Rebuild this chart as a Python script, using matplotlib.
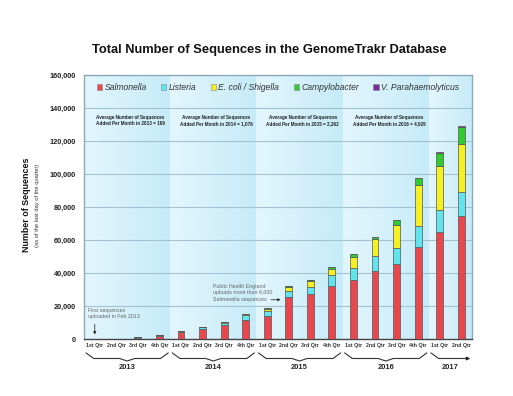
import numpy as np
import matplotlib
matplotlib.use("Agg")
import matplotlib.pyplot as plt
from matplotlib.transforms import blended_transform_factory
from matplotlib.colors import LinearSegmentedColormap

plt.rcParams['font.family'] = ['Liberation Sans', 'DejaVu Sans']

# ---------------- data ----------------
quarters = ["1st Qtr", "2nd Qtr", "3rd Qtr", "4th Qtr"] * 4 + ["1st Qtr", "2nd Qtr"]
years = ["2013", "2014", "2015", "2016", "2017"]
year_quarter_counts = [4, 4, 4, 4, 2]

salmonella = [100, 300, 900, 2100, 4300, 5900, 8300, 11500, 13900, 25300, 27500, 32100,
              35800, 41000, 45300, 55800, 64800, 74300]
listeria = [0, 0, 100, 300, 500, 1100, 1700, 3000, 3100, 3800, 4200, 6500,
            7400, 9300, 9800, 12500, 13200, 14500]
ecoli = [0, 0, 0, 0, 0, 300, 400, 700, 1100, 2600, 3400, 4000,
         6700, 10100, 13800, 24800, 26800, 29300]
campylobacter = [0, 0, 0, 0, 0, 100, 100, 100, 400, 600, 700, 800,
                 1400, 1600, 3200, 4700, 8200, 10100]
vibrio = [0] * 16 + [500, 1000]

series_names = ["Salmonella", "Listeria", "E. coli / Shigella", "Campylobacter", "V. Parahaemolyticus"]
series_colors = ["#E8474E", "#62E4EE", "#F4F021", "#2FCB2F", "#7A2A9C"]

avg_years = ["2013", "2014", "2015", "2016"]
avg_values = ["169", "1,076", "2,262", "4,929"]

# ---------------- figure ----------------
fig = plt.figure(figsize=(5.13, 3.96), dpi=100)
W, H = 513, 396
ax = fig.add_axes([84 / W, 1 - 339 / H, (472 - 84) / W, (339 - 75) / H])

n = len(quarters)
x = np.arange(n)

# background gradient per year block
cmap = LinearSegmentedColormap.from_list("bg", ["#E3F6FD", "#C6EBF8"])
grad = np.linspace(0, 1, 64).reshape(1, -1)
start = -0.5
for cnt in year_quarter_counts:
    ax.imshow(grad, cmap=cmap, aspect="auto", extent=(start, start + cnt, 0, 160000),
              zorder=0, interpolation="bicubic")
    start += cnt
ax.set_xlim(-0.5, n - 0.5)
ax.set_ylim(0, 160000)

# grid
ax.set_yticks(np.arange(0, 160001, 20000))
ax.yaxis.grid(True, color="#A3C3D2", lw=0.8, zorder=1)
ax.set_axisbelow(True)

# stacked bars
bottom = np.zeros(n)
handles = []
for vals, name, col in zip([salmonella, listeria, ecoli, campylobacter, vibrio], series_names, series_colors):
    v = np.array(vals, dtype=float)
    b = ax.bar(x, v, 0.32, bottom=bottom, color=col, edgecolor="#555555", linewidth=0.5,
               zorder=3, label=name)
    handles.append(b)
    bottom += v

# axes styling
for s in ["top", "right", "left"]:
    ax.spines[s].set_color("#8CA9BA")
    ax.spines[s].set_linewidth(1.0)
ax.spines["bottom"].set_color("#444444")
ax.spines["bottom"].set_linewidth(1.0)
ax.set_yticklabels([f"{v:,}" for v in range(0, 160001, 20000)], fontsize=5.3, fontweight="bold",
                   color="#222222")
ax.tick_params(axis="y", length=0, pad=6)
ax.set_xticks(x)
ax.set_xticklabels(quarters, fontsize=3.8, fontweight="bold", color="#333333")
ax.tick_params(axis="x", length=0, pad=3)

# legend
leg = ax.legend(handles=handles, loc="upper center", ncol=5, frameon=False,
                bbox_to_anchor=(0.5, 0.995), handlelength=0.6, handleheight=0.6,
                handletextpad=0.25, columnspacing=1.7, borderaxespad=0.4,
                prop={"size": 6.2, "style": "italic"})
for h in leg.legend_handles:
    h.set_edgecolor("#888888")
    h.set_linewidth(0.4)
for t in leg.get_texts():
    t.set_color("#333333")

# average annotations
start = -0.5
for yr, val, cnt in zip(avg_years, avg_values, year_quarter_counts):
    ax.text(start + cnt / 2 + 0.15, 132400,
            f"Average Number of Sequences\nAdded Per Month in {yr} = {val}",
            ha="center", va="center", fontsize=3.35, fontweight="bold", color="#222222",
            linespacing=1.3, zorder=4)
    start += cnt

# first sequences annotation
ax.text(-0.3, 15500, "First sequences\nuploaded in Feb 2013", fontsize=3.8, color="#666666",
        ha="left", va="center", linespacing=1.25, zorder=4)
ax.annotate("", xy=(0, 1000), xytext=(0, 10500),
            arrowprops=dict(arrowstyle="-|>", color="#333333", lw=0.6, mutation_scale=4), zorder=4)

# PHE annotation
ax.text(5.5, 28000, "Public Health England\nuploads more than 6,000\nSalmonella sequences",
        fontsize=3.8, color="#666666", ha="left", va="center", linespacing=1.3, zorder=4)
ax.annotate("", xy=(8.75, 23800), xytext=(8.05, 23800),
            arrowprops=dict(arrowstyle="-|>", color="#333333", lw=0.6, mutation_scale=4), zorder=4)

# year braces
tr = blended_transform_factory(ax.transData, fig.transFigure)
def fy(py):
    return 1 - py / H

y_top, y_mid, y_bot = fy(353), fy(358.5), fy(361)
start = -0.5
for i, (yr, cnt) in enumerate(zip(years, year_quarter_counts)):
    x0, x1 = start + 0.1, start + cnt - 0.1
    xc = (x0 + x1) / 2
    d = 0.35
    if i < len(years) - 1:
        xs = [x0, x0 + d, xc - d, xc, xc + d, x1 - d, x1]
        ys = [y_top, y_mid, y_mid, y_bot, y_mid, y_mid, y_top]
        fig.add_artist(plt.Line2D(xs, ys, transform=tr, color="#333333", lw=0.8))
    else:
        xs = [x0, x0 + d, x1 - 0.2]
        ys = [y_top, y_mid, y_mid]
        fig.add_artist(plt.Line2D(xs, ys, transform=tr, color="#333333", lw=0.8))
        ax.annotate("", xy=(x1 + 0.15, y_mid), xytext=(x1 - 0.3, y_mid), xycoords=tr, textcoords=tr,
                    arrowprops=dict(arrowstyle="-|>", color="#222222", lw=0.8, mutation_scale=5),
                    annotation_clip=False)
    ax.text(start + cnt / 2, fy(367.5), yr, transform=tr, ha="center", va="center",
            fontsize=5.4, fontweight="bold", color="#222222")
    start += cnt

# title
fig.text(269 / W, fy(50), "Total Number of Sequences in the GenomeTrakr Database",
         ha="center", va="center", fontsize=9.3, fontweight="bold", color="#111111")

# y-axis labels
fig.text(27 / W, fy(205), "Number of Sequences", rotation=90, ha="center", va="center",
         fontsize=6.4, fontweight="bold", color="#111111")
fig.text(37.5 / W, fy(205), "(as of the last day of the quarter)", rotation=90, ha="center",
         va="center", fontsize=4.15, color="#333333")

fig.savefig("out.png", dpi=100)
